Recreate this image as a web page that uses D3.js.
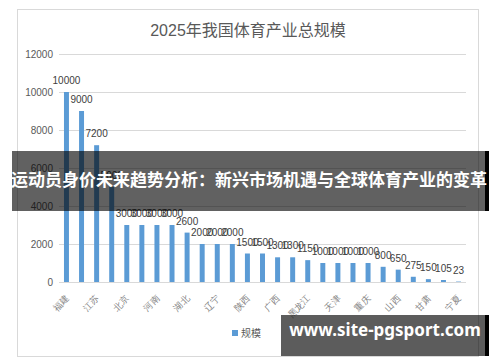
<!DOCTYPE html>
<html>
<head>
<meta charset="utf-8">
<script src="https://cdn.jsdelivr.net/npm/d3@7"></script>
<style>
  body { margin: 0; background: #fff; }
  svg { display: block; font-family: "Liberation Sans", "Noto Sans CJK SC", sans-serif; }
</style>
</head>
<body>
<svg id="chart"></svg>
<script>
// provinces (only every other one shows on the axis)
var provinces = ["福建","广东","江苏","浙江","北京","上海","河南","山东","湖北","四川",
                 "辽宁","湖南","陕西","安徽","广西","河北","黑龙江","吉林","天津","江西",
                 "重庆","云南","山西","贵州","甘肃","内蒙古","宁夏"];
var scale = [10000,9000,7200,5000,3000,3000,3000,3000,2600,2000,
             2000,2000,1500,1500,1300,1300,1150,1000,1000,1000,
             1000,800,650,275,150,105,23];
var yTicks = [0,2000,4000,6000,8000,10000,12000];
var title = "2025年我国体育产业总规模";
var seriesName = "规模";
var bannerText = "运动员身价未来趋势分析：新兴市场机遇与全球体育产业的变革";
var siteText = "www.site-pgsport.com";

var W = 500, H = 362;
var plot = {left: 59, right: 466, top: 54, bottom: 282};

var svg = d3.select("#chart")
    .attr("width", W)
    .attr("height", H);

// chart frame
svg.append("rect")
    .attr("x", 17.5).attr("y", 9.5)
    .attr("width", 461).attr("height", 347)
    .attr("fill", "#fff")
    .attr("stroke", "#d9d9d9");

svg.append("text")
    .attr("x", 248).attr("y", 36)
    .attr("text-anchor", "middle")
    .attr("fill", "#595959")
    .attr("font-size", "16px")
    .text(title);

var xScale = d3.scaleBand()
    .domain(provinces)
    .range([plot.left, plot.right])
    .paddingInner(0.67)
    .paddingOuter(0.33);

var yScale = d3.scaleLinear()
    .domain([0, 12000])
    .range([plot.bottom, plot.top]);

// y axis + gridlines
var yAxis = d3.axisLeft(yScale)
    .tickValues(yTicks)
    .tickFormat(d3.format("d"))
    .tickSize(-(plot.right - plot.left))
    .tickPadding(6);

var gy = svg.append("g")
    .attr("transform", "translate(" + plot.left + ",0)")
    .call(yAxis);
gy.select(".domain").remove();
gy.selectAll("line").attr("stroke", "#d9d9d9");
gy.selectAll("text")
    .attr("fill", "#595959")
    .attr("font-size", "10px");

// bars
svg.selectAll(".bar")
    .data(scale)
    .enter()
    .append("rect")
    .attr("class", "bar")
    .attr("x", (d,i) => xScale(provinces[i]))
    .attr("y", d => yScale(d))
    .attr("width", xScale.bandwidth())
    .attr("height", d => plot.bottom - yScale(d))
    .attr("fill", "#5b9bd5");

// value labels
svg.selectAll(".lbl")
    .data(scale)
    .enter()
    .append("text")
    .attr("class", "lbl")
    .attr("x", (d,i) => xScale(provinces[i]) + xScale.bandwidth()/2)
    .attr("y", d => yScale(d) - 8)
    .attr("text-anchor", "middle")
    .attr("fill", "#404040")
    .attr("font-size", "10px")
    .text(d => d);

// x axis, rotated labels
var xAxis = d3.axisBottom(xScale)
    .tickValues(provinces.filter((d,i) => i % 2 == 0))
    .tickSize(0);

var gx = svg.append("g")
    .attr("transform", "translate(0," + plot.bottom + ")")
    .call(xAxis);
gx.select(".domain").remove();
gx.selectAll("text")
    .attr("fill", "#7f7f7f")
    .attr("font-size", "9px")
    .attr("text-anchor", "end")
    .attr("y", 0)
    .attr("dy", "0")
    .attr("transform", "translate(3,17) rotate(-45)");

// legend
svg.append("rect")
    .attr("x", 232).attr("y", 330)
    .attr("width", 6).attr("height", 6)
    .attr("fill", "#5b9bd5");
svg.append("text")
    .attr("x", 241).attr("y", 337)
    .attr("fill", "#595959")
    .attr("font-size", "10px")
    .text(seriesName);

// overlay banner
svg.append("rect")
    .attr("x", 12).attr("y", 151)
    .attr("width", 474).attr("height", 60)
    .attr("fill", "rgba(0,0,0,0.62)");
svg.append("rect")
    .attr("x", 485).attr("y", 151)
    .attr("width", 4).attr("height", 60)
    .attr("fill", "#000");
svg.append("text")
    .attr("x", 249).attr("y", 186)
    .attr("text-anchor", "middle")
    .attr("fill", "#fff")
    .attr("font-weight", "bold")
    .attr("font-size", "17px")
    .attr("font-family", "'Noto Sans CJK SC', sans-serif")
    .text(bannerText);

// site watermark
svg.append("rect")
    .attr("x", 281).attr("y", 315)
    .attr("width", 205).attr("height", 41)
    .attr("fill", "rgba(0,0,0,0.64)");
svg.append("rect")
    .attr("x", 485).attr("y", 315)
    .attr("width", 4).attr("height", 41)
    .attr("fill", "#000");
svg.append("text")
    .attr("x", 385).attr("y", 336)
    .attr("text-anchor", "middle")
    .attr("fill", "#fff")
    .attr("font-weight", "bold")
    .attr("font-size", "17px")
    .attr("font-family", "'Noto Sans', sans-serif")
    .text(siteText);
</script>
</body>
</html>
